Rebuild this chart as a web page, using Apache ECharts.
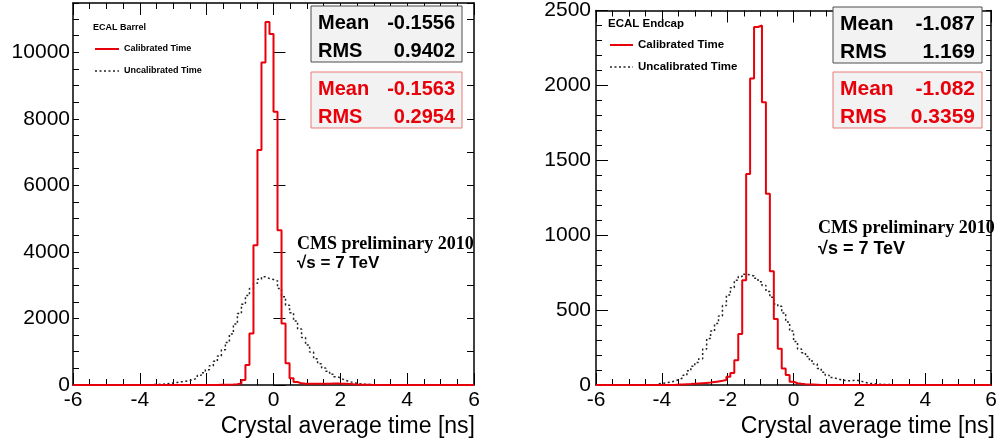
<!DOCTYPE html>
<html>
<head>
<meta charset="utf-8">
<script src="https://cdn.jsdelivr.net/npm/echarts@6/dist/echarts.min.js"></script>
<style>
html, body { margin: 0; padding: 0; background: #fff; }
#chart { width: 1000px; height: 444px; }
</style>
</head>
<body>
<div id="chart"></div>
<script>
// all four histograms: 100 bins from -6 to 6 ns
const binLow = -6
const binWidth = 0.12
const nBins = 100

// bin contents, first entry is bin index *First
const barrelCalFirst = 36
const barrelCal = [4, 6, 10, 15, 25, 45, 150, 600, 1550, 4200,
    7060, 9690, 10910, 10550, 8210, 4650, 1850, 650, 200, 90,
    50, 40, 35, 35, 35, 35, 40, 40, 45, 45,
    40, 35, 28, 20, 14, 10, 6, 4, 2]

const barrelUncalFirst = 15
const barrelUncal = [3, 5, 7, 9, 12,
    15, 20, 30, 45, 60, 75, 95, 110, 130, 160,
    210, 290, 370, 460, 580, 710, 870, 1060, 1280, 1530,
    1830, 2150, 2430, 2690, 2900, 3060, 3180, 3250, 3200, 3170,
    3130, 2900, 2650, 2400, 2170, 1920, 1680, 1430, 1200, 990,
    790, 640, 510, 410, 320, 250, 190, 140, 100, 70,
    45, 30, 20, 12, 8, 5, 3, 2, 1]

const endcapCalFirst = 20
const endcapCal = [3, 4, 5, 6, 8, 10, 12, 14, 16, 20, 24, 28, 33,
    55, 80, 165, 341, 700, 1408, 2046, 2390, 2400, 1888,
    1276, 759, 440, 242, 110, 66, 22, 12, 8, 5,
    4, 3, 2]

const endcapUncalFirst = 15
const endcapUncal = [8, 12, 16, 20, 27,
    36, 48, 65, 95, 125, 150, 175, 240, 310, 360,
    410, 460, 530, 600, 650, 700, 725, 740, 735, 728,
    712, 690, 665, 625, 585, 540, 525, 480, 420, 360,
    290, 240, 215, 190, 160, 140, 110, 85, 65, 50,
    42, 35, 30, 28, 30, 32, 26, 18, 12, 9,
    7, 5, 4, 3, 2]

const xTicks = [-6, -4, -2, 0, 2, 4, 6]
const barrelYMax = 11480
const barrelYLabels = [0, 2000, 4000, 6000, 8000, 10000]
const endcapYMax = 2500

const legendNames = ['Calibrated Time', 'Uncalibrated Time']
const barrelStats = { black: ['-0.1556', '0.9402'], red: ['-0.1563', '0.2954'] }
const endcapStats = { black: ['-1.087', '1.169'], red: ['-1.082', '0.3359'] }

const RED = '#e8000b'
const DOTS = [2, 2.5]
const SANS = '"Liberation Sans", Arial, sans-serif'
const SERIF = '"Liberation Serif", "Times New Roman", serif'

function histPoints(first, counts) {
    const pts = []
    for (let k = 0; k < nBins; k++) {
        const i = k - first
        const v = (i >= 0 && i < counts.length) ? counts[i] : 0
        pts.push([+(binLow + k * binWidth).toFixed(2), v])
    }
    pts.push([binLow + nBins * binWidth, 0])
    return pts
}

function histSeries(name, xi, yi, data, color, dotted) {
    return {
        name: name,
        type: 'line',
        xAxisIndex: xi,
        yAxisIndex: yi,
        step: 'end',
        symbol: 'none',
        data: data,
        z: dotted ? 2 : 3,
        itemStyle: { color: color },
        lineStyle: { color: color, width: dotted ? 1.5 : 2, type: dotted ? DOTS : 'solid' }
    }
}

const frame = { show: true, onZero: false, lineStyle: { color: '#000', width: 1.5 } }

function xAxisPair(grid) {
    const base = {
        gridIndex: grid, type: 'value', min: -6, max: 6, interval: 2,
        axisLine: frame,
        splitLine: { show: false },
        axisTick: { inside: true, length: 12, lineStyle: { color: '#000', width: 1 } },
        minorTick: { show: true, splitNumber: 4, length: 6, lineStyle: { color: '#000', width: 1 } }
    }
    return [
        Object.assign({}, base, {
            position: 'bottom',
            axisLabel: { color: '#000', fontSize: 21, fontFamily: SANS, margin: 5,
                customValues: xTicks, formatter: v => String(v) }
        }),
        Object.assign({}, base, { position: 'top', axisLabel: { show: false } })
    ]
}

function statsBox(x, y, w, vals, color, stroke, fs, valRight) {
    const font = 'bold ' + fs + 'px ' + SANS
    return [
        { type: 'rect', shape: { x: x, y: y, width: w, height: 56 },
          style: { fill: '#f2f2f2', stroke: stroke, lineWidth: 1 }, z: 10 },
        label('Mean', x + 7, y + 17, font, 'left', color),
        label(vals[0], valRight, y + 17, font, 'right', color),
        label('RMS', x + 7, y + 45, font, 'left', color),
        label(vals[1], valRight, y + 45, font, 'right', color)
    ]
}

function label(text, x, y, font, align, color) {
    return { type: 'text', x: x, y: y, z: 11,
        style: { text: text, font: font, fill: color || '#000', align: align || 'left', verticalAlign: 'middle' } }
}

// legend block: heading, then a red solid and a black dotted sample line
function legendBlock(title, x, y, size, lineLen) {
    const font = 'bold ' + size + 'px ' + SANS
    const row1 = y + 21, row2 = y + 43
    return [
        label(title, x - 2, y, font),
        { type: 'line', z: 11, shape: { x1: x, y1: row1, x2: x + lineLen, y2: row1 },
          style: { stroke: RED, lineWidth: 2 } },
        label(legendNames[0], x + lineLen + 5, row1, font),
        { type: 'line', z: 11, shape: { x1: x, y1: row2, x2: x + lineLen, y2: row2 },
          style: { stroke: '#222', lineWidth: 1.5, lineDash: DOTS } },
        label(legendNames[1], x + lineLen + 5, row2, font)
    ]
}

const chart = echarts.init(document.getElementById('chart'))

chart.setOption({
    animation: false,
    backgroundColor: '#fff',
    grid: [
        { left: 73, top: 3, right: 526, bottom: 59 },
        { left: 596, top: 6, right: 5, bottom: 59 }
    ],
    xAxis: [].concat(xAxisPair(0), xAxisPair(1)),
    yAxis: [
        { gridIndex: 0, type: 'value', position: 'left', min: 0, max: barrelYMax, interval: 500,
          axisLine: frame, splitLine: { show: false },
          axisTick: { inside: true, length: 6, lineStyle: { color: '#000' } },
          axisLabel: { color: '#000', fontSize: 21, fontFamily: SANS, margin: 3,
              customValues: barrelYLabels, formatter: v => String(v) } },
        { gridIndex: 0, type: 'value', position: 'left', min: 0, max: barrelYMax, interval: 2000,
          axisLine: { show: false }, splitLine: { show: false },
          axisTick: { inside: true, length: 12, customValues: barrelYLabels, lineStyle: { color: '#000' } },
          axisLabel: { show: false } },
        { gridIndex: 0, type: 'value', position: 'right', min: 0, max: barrelYMax, interval: 1000,
          axisLine: frame, splitLine: { show: false },
          axisTick: { inside: true, length: 7, lineStyle: { color: '#000' } },
          axisLabel: { show: false } },
        { gridIndex: 1, type: 'value', position: 'left', min: 0, max: endcapYMax, interval: 500,
          axisLine: frame, splitLine: { show: false },
          axisTick: { inside: true, length: 12, lineStyle: { color: '#000' } },
          minorTick: { show: true, splitNumber: 5, length: 6, lineStyle: { color: '#000' } },
          axisLabel: { color: '#000', fontSize: 21, fontFamily: SANS, margin: 5, formatter: v => String(v) } },
        { gridIndex: 1, type: 'value', position: 'right', min: 0, max: endcapYMax, interval: 100,
          axisLine: frame, splitLine: { show: false },
          axisTick: { inside: true, length: 5, lineStyle: { color: '#000' } },
          axisLabel: { show: false } }
    ],
    series: [
        histSeries(legendNames[1], 0, 0, histPoints(barrelUncalFirst, barrelUncal), '#222', true),
        histSeries(legendNames[0], 0, 0, histPoints(barrelCalFirst, barrelCal), RED, false),
        histSeries(legendNames[1], 2, 3, histPoints(endcapUncalFirst, endcapUncal), '#222', true),
        histSeries(legendNames[0], 2, 3, histPoints(endcapCalFirst, endcapCal), RED, false)
    ],
    graphic: [].concat(
        legendBlock('ECAL Barrel', 95, 28, 9, 24),
        statsBox(311, 6, 151, barrelStats.black, '#000', '#4d4d4d', 20, 455),
        statsBox(311, 72, 151, barrelStats.red, RED, '#e87b7b', 20, 455),
        [
            label('CMS preliminary 2010', 297, 244, 'bold 18px ' + SERIF),
            label('√s = 7 TeV', 297, 263, 'bold 17px ' + SANS),
            label('Crystal average time [ns]', 475, 427, '23px ' + SANS, 'right')
        ],
        legendBlock('ECAL Endcap', 610, 24, 11.5, 23),
        statsBox(833, 7, 149, endcapStats.black, '#000', '#4d4d4d', 21, 975),
        statsBox(833, 72, 149, endcapStats.red, RED, '#e87b7b', 21, 975),
        [
            label('CMS preliminary 2010', 818, 228, 'bold 18px ' + SERIF),
            label('√s = 7 TeV', 818, 249, 'bold 18px ' + SANS),
            label('Crystal average time [ns]', 995, 427, '23px ' + SANS, 'right')
        ]
    )
})
</script>
</body>
</html>
